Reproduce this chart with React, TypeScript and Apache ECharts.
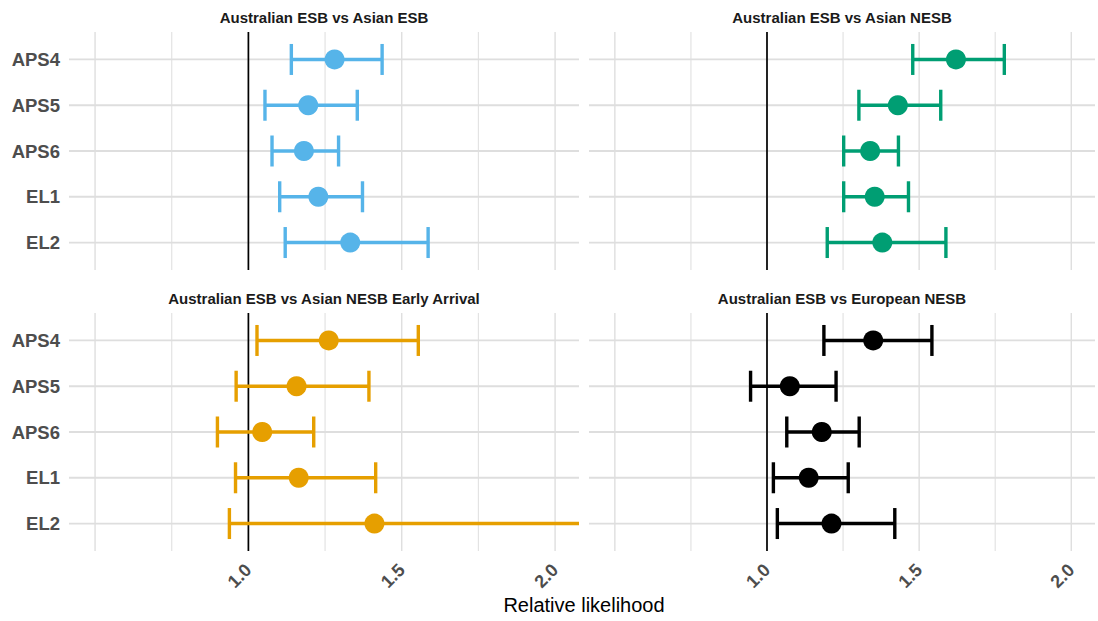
import * as echarts from "echarts";
import { useEffect, useRef } from "react";

const rows = ["APS4", "APS5", "APS6", "EL1", "EL2"];

const panelTitles = [
  "Australian ESB vs Asian ESB",
  "Australian ESB vs Asian NESB",
  "Australian ESB vs Asian NESB Early Arrival",
  "Australian ESB vs European NESB",
];
const panelColors = ["#56B4E9", "#009E73", "#E69F00", "#000000"];

const asianEsbEst = [1.281, 1.195, 1.181, 1.228, 1.332];
const asianEsbLo = [1.14, 1.054, 1.077, 1.102, 1.12];
const asianEsbHi = [1.436, 1.355, 1.294, 1.372, 1.586];

const asianNesbEst = [1.621, 1.43, 1.339, 1.354, 1.379];
const asianNesbLo = [1.479, 1.302, 1.252, 1.252, 1.198];
const asianNesbHi = [1.78, 1.571, 1.432, 1.465, 1.588];

const earlyArrivalEst = [1.262, 1.157, 1.045, 1.164, 1.411];
const earlyArrivalLo = [1.028, 0.96, 0.899, 0.958, 0.938];
const earlyArrivalHi = [1.554, 1.393, 1.213, 1.415, 2.25];

const europeanNesbEst = [1.349, 1.075, 1.18, 1.137, 1.212];
const europeanNesbLo = [1.187, 0.946, 1.065, 1.021, 1.034];
const europeanNesbHi = [1.542, 1.227, 1.303, 1.267, 1.42];

const majorBreaks = [0.5, 1, 1.5, 2];
const minorBreaks = [0.75, 1.25, 1.75];
const tickLabels = [1, 1.5, 2];
const refLine = 1;

const panels = [
  { est: asianEsbEst, lo: asianEsbLo, hi: asianEsbHi },
  { est: asianNesbEst, lo: asianNesbLo, hi: asianNesbHi },
  { est: earlyArrivalEst, lo: earlyArrivalLo, hi: earlyArrivalHi },
  { est: europeanNesbEst, lo: europeanNesbLo, hi: europeanNesbHi },
];

const FONT = "'Liberation Sans', Arial, sans-serif";
const grids = [
  { left: 69, top: 32, width: 510, height: 238 },
  { left: 589, top: 32, width: 506, height: 238 },
  { left: 69, top: 313, width: 510, height: 238 },
  { left: 589, top: 313, width: 506, height: 238 },
];

export default function App() {
  const ref = useRef<HTMLDivElement>(null);

  useEffect(() => {
    if (!ref.current) return;
    document.body.style.margin = "0";
    const chart = echarts.init(ref.current, null, { renderer: "svg" });

    const vGrid = (i: number, values: number[], color: string, width: number, z: number) => ({
      type: "custom",
      xAxisIndex: i,
      yAxisIndex: i,
      z,
      silent: true,
      data: values.map((v) => [v, 0]),
      encode: { x: 0, y: 1 },
      renderItem: (params: any, api: any) => {
        const cs = params.coordSys;
        const x = api.coord([api.value(0), 0])[0];
        return {
          type: "line",
          shape: { x1: x, y1: cs.y, x2: x, y2: cs.y + cs.height },
          style: { stroke: color, lineWidth: width },
        };
      },
    });

    const series: any[] = [];
    panels.forEach((p, i) => {
      const color = panelColors[i];
      series.push(vGrid(i, minorBreaks, "#e3e3e3", 1.2, 1));
      series.push(vGrid(i, majorBreaks, "#dcdcdc", 1.3, 1));
      series.push({
        type: "custom",
        xAxisIndex: i,
        yAxisIndex: i,
        z: 1,
        silent: true,
        data: rows.map((_, r) => [refLine, r]),
        encode: { x: 0, y: 1 },
        renderItem: (params: any, api: any) => {
          const cs = params.coordSys;
          const y = api.coord([refLine, api.value(1)])[1];
          return {
            type: "line",
            shape: { x1: cs.x, y1: y, x2: cs.x + cs.width, y2: y },
            style: { stroke: "#dedede", lineWidth: 1.8 },
          };
        },
      });
      series.push(vGrid(i, [refLine], "#000000", 1.7, 2));
      series.push({
        type: "custom",
        xAxisIndex: i,
        yAxisIndex: i,
        z: 3,
        data: rows.map((_, r) => [p.lo[r], p.hi[r], r]),
        encode: { x: [0, 1], y: 2 },
        renderItem: (params: any, api: any) => {
          const cs = params.coordSys;
          const right = cs.x + cs.width;
          const r = api.value(2);
          const a = api.coord([api.value(0), r]);
          const b = api.coord([api.value(1), r]);
          const half = 15.5;
          const style = { stroke: color, lineWidth: 3.4 };
          const children: any[] = [
            { type: "line", shape: { x1: a[0], y1: a[1], x2: Math.min(b[0], right), y2: a[1] }, style },
            { type: "line", shape: { x1: a[0], y1: a[1] - half, x2: a[0], y2: a[1] + half }, style },
          ];
          if (b[0] <= right) {
            children.push({ type: "line", shape: { x1: b[0], y1: b[1] - half, x2: b[0], y2: b[1] + half }, style });
          }
          return { type: "group", children };
        },
      });
      series.push({
        type: "scatter",
        xAxisIndex: i,
        yAxisIndex: i,
        z: 4,
        symbol: "circle",
        symbolSize: 20,
        itemStyle: { color, opacity: 1 },
        data: p.est.map((v, r) => [v, r]),
      });
    });

    chart.setOption({
      animation: false,
      grid: grids.map((g) => ({ ...g, containLabel: false })),
      xAxis: grids.map((_, i) => ({
        type: "value",
        gridIndex: i,
        min: 0.415,
        max: 2.078,
        axisLine: { show: false },
        axisTick: { show: false },
        splitLine: { show: false },
        axisLabel: {
          show: i >= 2,
          customValues: tickLabels,
          formatter: (v: number) => v.toFixed(1),
          rotate: 45,
          margin: 16,
          color: "#4d4d4d",
          fontWeight: "bold",
          fontSize: 18,
          fontFamily: FONT,
        },
      })),
      yAxis: grids.map((_, i) => ({
        type: "value",
        gridIndex: i,
        min: -0.6,
        max: 4.6,
        inverse: true,
        axisLine: { show: false },
        axisTick: { show: false },
        splitLine: { show: false },
        axisLabel: {
          show: i % 2 === 0,
          customValues: rows.map((_, r) => r),
          formatter: (v: number) => rows[Math.round(v)] ?? "",
          margin: 9,
          color: "#4d4d4d",
          fontWeight: "bold",
          fontSize: 18.5,
          fontFamily: FONT,
        },
      })),
      graphic: [
        ...grids.map((g, i) => ({
          type: "text",
          x: g.left + g.width / 2,
          y: g.top - 15,
          style: {
            text: panelTitles[i],
            textAlign: "center",
            textVerticalAlign: "middle",
            fill: "#1a1a1a",
            fontSize: 15,
            fontWeight: "bold",
            fontFamily: FONT,
          },
        })),
        {
          type: "text",
          x: 584,
          y: 605,
          style: {
            text: "Relative likelihood",
            textAlign: "center",
            textVerticalAlign: "middle",
            fill: "#000000",
            fontSize: 20,
            fontFamily: FONT,
          },
        },
      ],
      series,
    });

    return () => chart.dispose();
  }, []);

  return <div ref={ref} style={{ width: 1098, height: 621 }} />;
}
